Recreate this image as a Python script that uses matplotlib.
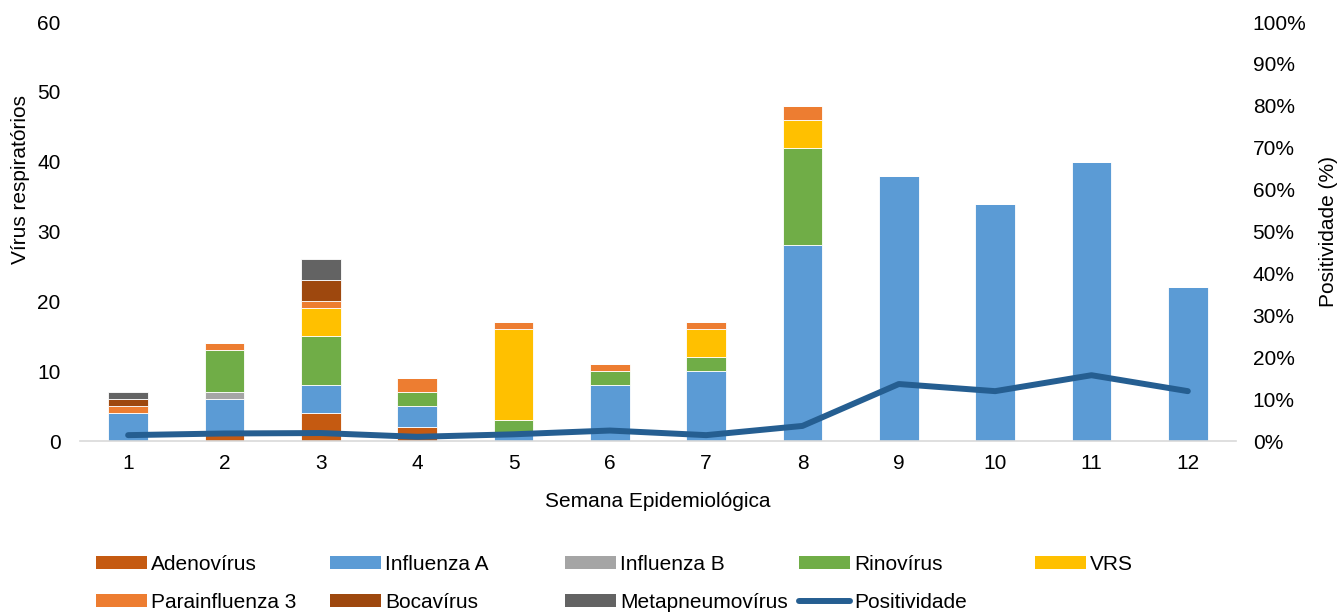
import numpy as np
from matplotlib import pyplot as plt
from matplotlib.patches import Patch
from matplotlib.lines import Line2D
from matplotlib.ticker import PercentFormatter

plt.rcParams['font.family'] = ['Liberation Sans', 'DejaVu Sans']

semanas = [1, 2, 3, 4, 5, 6, 7, 8, 9, 10, 11, 12]

adenovirus      = [0, 1, 4, 2, 0, 0, 0, 0, 0, 0, 0, 0]
influenza_a     = [4, 5, 4, 3, 1, 8, 10, 28, 38, 34, 40, 22]
influenza_b     = [0, 1, 0, 0, 0, 0, 0, 0, 0, 0, 0, 0]
rinovirus       = [0, 6, 7, 2, 2, 2, 2, 14, 0, 0, 0, 0]
vrs             = [0, 0, 4, 0, 13, 0, 4, 4, 0, 0, 0, 0]
parainfluenza_3 = [1, 1, 1, 2, 1, 1, 1, 2, 0, 0, 0, 0]
bocavirus       = [1, 0, 3, 0, 0, 0, 0, 0, 0, 0, 0, 0]
metapneumovirus = [1, 0, 3, 0, 0, 0, 0, 0, 0, 0, 0, 0]

positividade = [1.4, 1.8, 1.9, 1.0, 1.6, 2.5, 1.4, 3.6, 13.6, 11.9, 15.7, 11.9]

series = [
    ('Adenovírus', adenovirus, '#C55A11'),
    ('Influenza A', influenza_a, '#5B9BD5'),
    ('Influenza B', influenza_b, '#A5A5A5'),
    ('Rinovírus', rinovirus, '#70AD47'),
    ('VRS', vrs, '#FFC000'),
    ('Parainfluenza 3', parainfluenza_3, '#ED7D31'),
    ('Bocavírus', bocavirus, '#9E480E'),
    ('Metapneumovírus', metapneumovirus, '#636363'),
]
line_color = '#255E91'
fs = 15

fig = plt.figure(figsize=(13.42, 6.12), dpi=100)
ax = fig.add_axes([0.0596, 0.2794, 0.8614, 0.6846])

x = np.array(semanas)
bottom = np.zeros(len(x))
for name, vals, col in series:
    vals = np.array(vals, dtype=float)
    ax.bar(x, vals, 0.41, bottom=bottom, color=col, edgecolor='white',
           linewidth=0.6, label=name, zorder=2)
    bottom += vals

ax.set_xlim(0.5, 12.5)
ax.set_ylim(0, 60)
ax.set_yticks(range(0, 61, 10))
ax.set_xticks(x)
ax.tick_params(length=0, labelsize=fs, colors='black')
ax.tick_params(axis='y', pad=14)
ax.tick_params(axis='x', pad=9)
for s in ['top', 'left', 'right']:
    ax.spines[s].set_visible(False)
ax.spines['bottom'].set_color('#D9D9D9')
ax.spines['bottom'].set_linewidth(1.2)
ax.set_xlabel('Semana Epidemiológica', fontsize=fs, labelpad=14)
ax.set_ylabel('Vírus respiratórios', fontsize=fs)
ax.yaxis.set_label_coords(-0.043, 0.623)

ax2 = ax.twinx()
ax2.plot(x, positividade, color=line_color, lw=4.3, solid_capstyle='round',
         solid_joinstyle='round', zorder=3)
ax2.set_ylim(0, 100)
ax2.set_yticks(range(0, 101, 10))
ax2.yaxis.set_major_formatter(PercentFormatter(decimals=0))
ax2.tick_params(length=0, labelsize=fs, pad=12)
for s in ['top', 'left', 'right', 'bottom']:
    ax2.spines[s].set_visible(False)
ax2.set_ylabel('Positividade (%)', fontsize=fs)
ax2.yaxis.set_label_coords(1.072, 0.5)

# legend laid out as a 5-column grid with equal column spacing
handles = [Patch(facecolor=c, edgecolor='none') for _, _, c in series]
labels = [n for n, _, _ in series]
handles.append(Line2D([0], [0], color=line_color, lw=4.3, solid_capstyle='round'))
labels.append('Positividade')
cols = [[0, 5], [1, 6], [2, 7], [3, 8], [4]]
col_x = [96, 330, 565, 799, 1035]
for cx, idx in zip(col_x, cols):
    fig.legend([handles[i] for i in idx], [labels[i] for i in idx],
               loc='upper left', bbox_to_anchor=(cx / 1342, 1 - 555 / 612),
               frameon=False, fontsize=fs, handlelength=2.45,
               handleheight=0.6, handletextpad=0.2, labelspacing=0.9,
               borderaxespad=0, borderpad=0)

fig.savefig('out.png', dpi=100)
